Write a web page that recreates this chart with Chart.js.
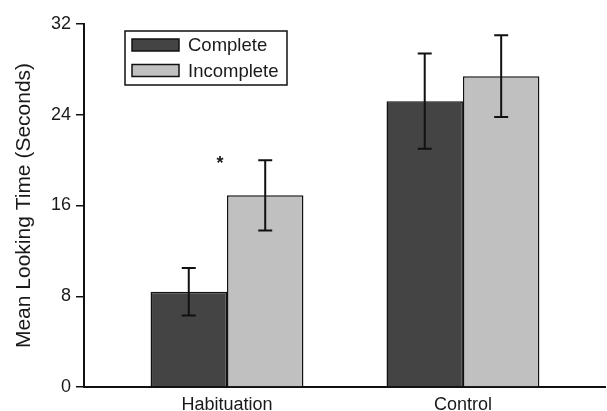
<!DOCTYPE html>
<html>
<head>
<meta charset="utf-8">
<script src="https://cdn.jsdelivr.net/npm/chart.js@4/dist/chart.umd.min.js"></script>
<style>
  html, body { margin: 0; padding: 0; background: #fff; }
  #wrap { width: 607px; height: 411px; }
</style>
</head>
<body>
<div id="wrap"><canvas id="c" width="607" height="411"></canvas></div>
<script>
// ---- data ----
const categories = ['Habituation', 'Control'];
const seriesNames = ['Complete', 'Incomplete'];
const completeMeans = [8.4, 25.2];
const completeErrors = [2.1, 4.2];
const incompleteMeans = [16.9, 27.4];
const incompleteErrors = [3.1, 3.6];
const yTicks = [0, 8, 16, 24, 32];
const markLabels = ['*'];
const markX = [-0.03];
const markY = [19.9];

const FONT = "'Liberation Sans', Arial, sans-serif";
const TEXT = '#1a1a1a';

const errorBars = {
  id: 'errorBars',
  afterDatasetsDraw(chart) {
    const ctx = chart.ctx;
    const y = chart.scales.y;
    ctx.save();
    ctx.strokeStyle = '#111';
    ctx.lineWidth = 2;
    chart.data.datasets.forEach((ds, di) => {
      const meta = chart.getDatasetMeta(di);
      meta.data.forEach((el, i) => {
        const v = ds.data[i].y, e = ds.errors[i];
        const x = el.x;
        const yt = y.getPixelForValue(v + e), yb = y.getPixelForValue(v - e);
        ctx.beginPath();
        ctx.moveTo(x, yt); ctx.lineTo(x, yb);
        ctx.moveTo(x - 7, yt); ctx.lineTo(x + 7, yt);
        ctx.moveTo(x - 7, yb); ctx.lineTo(x + 7, yb);
        ctx.stroke();
      });
    });
    ctx.fillStyle = TEXT;
    ctx.font = 'bold 18px ' + FONT;
    ctx.textAlign = 'center';
    ctx.textBaseline = 'middle';
    markLabels.forEach((t, i) => {
      ctx.fillText(t, chart.scales.x.getPixelForValue(markX[i]), y.getPixelForValue(markY[i]) + 3);
    });
    ctx.restore();
  }
};

const boxLegend = {
  id: 'boxLegend',
  afterDraw(chart) {
    const ctx = chart.ctx;
    ctx.save();
    ctx.strokeStyle = '#111';
    ctx.lineWidth = 1.5;
    ctx.strokeRect(125, 31, 162, 54);
    ctx.font = '18.5px ' + FONT;
    ctx.textBaseline = 'middle';
    ctx.textAlign = 'left';
    chart.data.datasets.forEach((ds, i) => {
      const top = 39 + i * 25.5;
      ctx.fillStyle = ds.backgroundColor;
      ctx.fillRect(132, top, 47, 12);
      ctx.lineWidth = 1.5;
      ctx.strokeRect(132, top, 47, 12);
      ctx.fillStyle = TEXT;
      ctx.fillText(ds.label, 188, top + 7);
    });
    ctx.restore();
  }
};

const fillColors = ['#444444', '#c0c0c0'];
const means = [completeMeans, incompleteMeans];
const errs = [completeErrors, incompleteErrors];

new Chart(document.getElementById('c'), {
  type: 'bar',
  data: {
    datasets: seriesNames.map((name, s) => ({
      label: name,
      data: categories.map((c, i) => ({ x: i, y: means[s][i] })),
      errors: errs[s],
      backgroundColor: fillColors[s],
      borderColor: '#111',
      borderWidth: 1.5,
      borderSkipped: 'bottom',
      barPercentage: 1,
      categoryPercentage: 0.648
    }))
  },
  options: {
    responsive: false,
    animation: false,
    layout: { padding: { top: 24, right: 2, left: 0, bottom: 0 } },
    plugins: {
      legend: { display: false },
      tooltip: { enabled: false }
    },
    scales: {
      x: {
        type: 'linear',
        offset: false,
        min: -0.606,
        max: 1.602,
        afterBuildTicks(s) { s.ticks = categories.map((c, i) => ({ value: i })); },
        afterFit(s) { s.height = 24; },
        grid: { display: false, drawTicks: false, offset: false },
        border: { display: true, color: '#111', width: 2 },
        ticks: {
          padding: 7,
          color: TEXT,
          font: { size: 18, family: FONT },
          callback: (v) => categories[v] ?? ''
        }
      },
      y: {
        min: 0,
        max: 32,
        afterBuildTicks(s) { s.ticks = yTicks.map(v => ({ value: v })); },
        afterFit(s) { s.width = 84; },
        grid: { drawOnChartArea: false, drawTicks: true, tickLength: 8, color: '#111', lineWidth: 1.5 },
        border: { display: true, color: '#111', width: 2 },
        ticks: {
          padding: 5,
          color: TEXT,
          font: { size: 18, family: FONT }
        },
        title: {
          display: true,
          text: 'Mean Looking Time (Seconds)',
          color: TEXT,
          font: { size: 21, family: FONT },
          padding: { top: 12, bottom: 0 }
        }
      }
    }
  },
  plugins: [errorBars, boxLegend]
});
</script>
</body>
</html>
